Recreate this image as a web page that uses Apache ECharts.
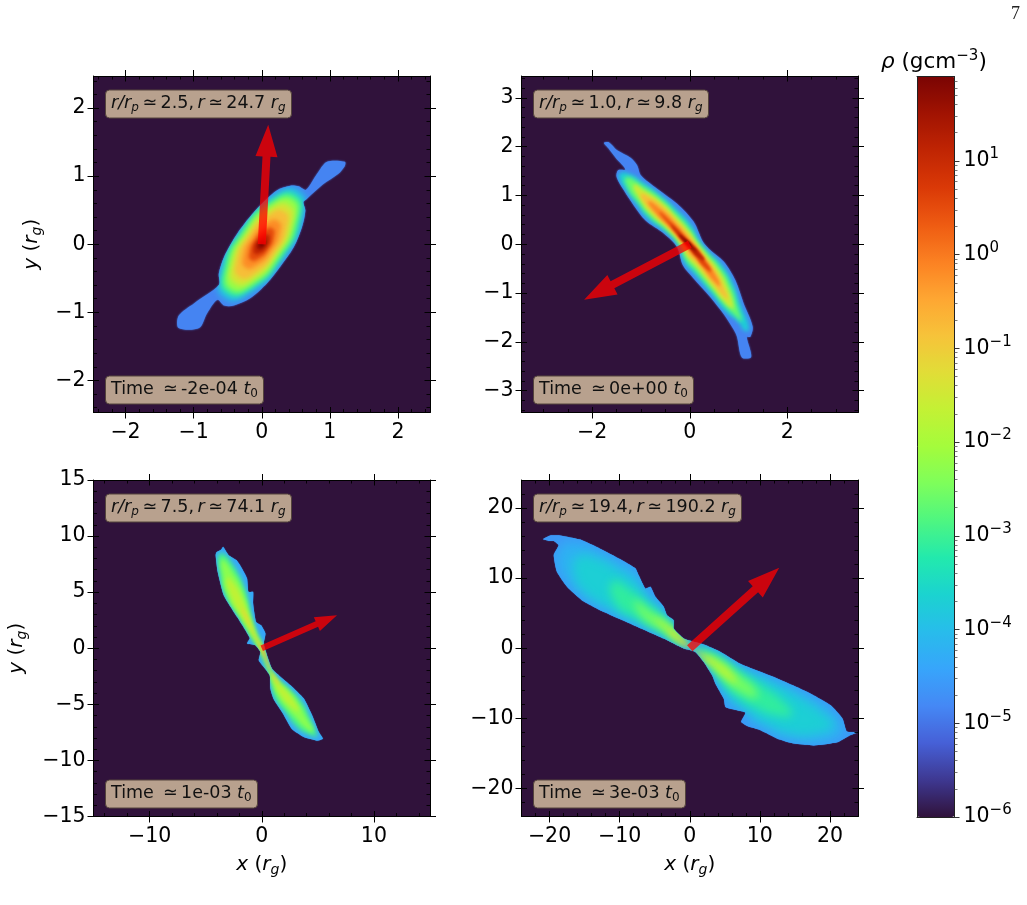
<!DOCTYPE html>
<html>
<head>
<meta charset="utf-8">
<style>html,body{margin:0;padding:0;background:#fff}#chart{width:1027px;height:905px}</style>
<script src="https://cdn.jsdelivr.net/npm/echarts@6/dist/echarts.min.js"></script>
</head>
<body>
<div id="chart"></div>
<script>
// Density contours: log10(rho) of each contour, then its outline in units of r_g.
const p1Levels = [-4.85, -3.9, -3.0, -2.2, -1.4, -0.8, -0.2, 0.5, 1.1, 1.6, 1.9];
const p1Contours = [
  [[1.22,1.21],[1.22,1.15],[1.12,1.03],[.90,.88],[.66,.665],[.61,.62],[.64,.495],[.59,.25],[.47,-.04],[.27,-.33],[.08,-.57],[-.165,-.79],[-.41,-.90],[-.55,-.90],[-.65,-.815],[-.80,-1.01],[-.92,-1.23],[-1.22,-1.23],[-1.22,-1.05],[-.99,-.865],[-.63,-.60],[-.63,-.43],[-.55,-.18],[-.36,.155],[-.07,.52],[.22,.79],[.42,.86],[.54,.85],[.65,.80],[.81,1.03],[.96,1.21]],
  [[.55,.79],[.615,.40],[.32,-.22],[-.16,-.72],[-.55,-.79],[-.615,-.40],[-.32,.22],[.16,.72]],
  [[.50,.72],[.56,.37],[.29,-.20],[-.15,-.65],[-.50,-.72],[-.56,-.37],[-.29,.20],[.15,.65]],
  [[.46,.66],[.50,.34],[.25,-.18],[-.14,-.59],[-.46,-.66],[-.50,-.34],[-.25,.18],[.14,.59]],
  [[.40,.57],[.44,.30],[.22,-.15],[-.13,-.52],[-.40,-.57],[-.44,-.30],[-.22,.15],[.13,.52]],
  [[.33,.48],[.37,.25],[.185,-.13],[-.10,-.43],[-.33,-.48],[-.37,-.25],[-.185,.13],[.10,.43]],
  [[.24,.34],[.27,.175],[.14,-.10],[-.07,-.31],[-.24,-.34],[-.27,-.175],[-.14,.10],[.07,.31]],
  [[.16,.23],[.18,.115],[.10,-.07],[-.04,-.21],[-.16,-.23],[-.18,-.115],[-.10,.07],[.04,.21]],
  [[.10,.14],[.12,.065],[.07,-.05],[-.02,-.13],[-.10,-.14],[-.12,-.065],[-.07,.05],[.02,.13]],
  [[.05,.07],[.07,.03],[.04,-.03],[-.01,-.07],[-.05,-.07],[-.07,-.03],[-.04,.03],[.01,.07]],
  [[.02,.03],[.03,.01],[.02,-.015],[-.005,-.03],[-.02,-.03],[-.03,-.01],[-.02,.015],[.005,.03]]
];

const p2Levels = [-4.85, -3.7, -2.6, -1.5, -0.8, -0.1, 0.6, 1.2, 1.7, 1.9];
const p2Contours = [
  [[-1.76,2.075],[-1.66,2.09],[-1.49,1.925],[-1.215,1.775],[-1.08,1.62],[-1.0,1.41],[-.67,1.14],[-.26,.83],[.08,.46],[.27,.05],[.39,-.09],[.70,-.36],[.935,-.74],[1.105,-1.215],[1.29,-1.69],[1.24,-1.90],[1.17,-1.90],[1.26,-2.31],[1.07,-2.32],[.97,-1.90],[.90,-1.75],[.71,-1.45],[.42,-1.08],[.08,-.70],[-.14,-.43],[-.26,-.055],[-.53,.22],[-.91,.49],[-1.15,.80],[-1.35,1.105],[-1.50,1.38],[-1.47,1.515],[-1.32,1.535],[-1.52,1.775],[-1.66,1.96]],
  [[-1.42,1.46],[-1.25,1.45],[-.95,1.27],[-.62,1.03],[-.27,.72],[.03,.40],[.22,.06],[.38,-.14],[.66,-.42],[.88,-.78],[1.05,-1.25],[1.22,-1.72],[1.14,-1.78],[.98,-1.58],[.73,-1.38],[.44,-1.02],[.10,-.62],[-.11,-.38],[-.24,-.03],[-.5,.25],[-.86,.52],[-1.1,.82],[-1.3,1.1],[-1.45,1.35]],
  [[-1.3,1.38],[-.93,1.18],[-.6,.95],[-.27,.63],[0,.33],[.18,.04],[.36,-.18],[.62,-.47],[.84,-.85],[.98,-1.28],[1.06,-1.58],[.95,-1.48],[.74,-1.28],[.46,-.95],[.12,-.55],[-.08,-.32],[-.21,-.02],[-.47,.28],[-.82,.57],[-1.05,.85],[-1.28,1.17]],
  [[-1.15,1.22],[-.9,1.08],[-.58,.86],[-.27,.55],[-.02,.27],[.15,.02],[.34,-.22],[.58,-.52],[.78,-.9],[.90,-1.3],[.84,-1.3],[.68,-1.15],[.46,-.87],[.14,-.47],[-.05,-.26],[-.18,0],[-.45,.31],[-.78,.6],[-1.0,.88]],
  [[-1.0,1.03],[-.82,.96],[-.55,.76],[-.27,.47],[-.04,.21],[.12,0],[.30,-.25],[.52,-.55],[.70,-.9],[.78,-1.12],[.70,-1.07],[.46,-.78],[.16,-.40],[-.03,-.20],[-.16,.02],[-.43,.34],[-.72,.63],[-.92,.85]],
  [[-.85,.88],[-.55,.68],[-.28,.41],[-.06,.16],[.10,-.03],[.28,-.27],[.48,-.55],[.62,-.85],[.50,-.76],[.20,-.38],[0,-.15],[-.14,.04],[-.40,.34],[-.68,.62]],
  [[-.62,.66],[-.30,.37],[-.07,.12],[.10,-.05],[.27,-.28],[.44,-.55],[.30,-.47],[.08,-.19],[-.08,-.01],[-.32,.28]],
  [[-.38,.40],[-.15,.17],[.03,0],[.18,-.15],[.30,-.33],[.15,-.25],[0,-.08],[-.12,.05],[-.28,.25]],
  [[-.22,.20],[-.06,.08],[.05,-.04],[.14,-.14],[.05,-.10],[-.05,-.01],[-.15,.10]],
  [[-.11,.09],[-.03,.04],[.03,-.03],[-.02,-.02],[-.07,.03]]
];

const p3Levels = [-4.4, -2.9, -2.3, -1.7, -1.1, -0.7, -0.2];
const p3Contours = [
  [[-3.45,9.05],[-3.27,8.78],[-2.95,8.30],[-2.26,7.86],[-1.85,7.26],[-1.31,6.22],[-1.19,5.03],[-.77,5.03],[-.77,3.99],[-.51,2.35],[-.06,2.05],[.33,1.31],[.18,.42],[.33,-.18],[.92,-1.82],[2.56,-3.30],[3.75,-4.49],[4.49,-5.98],[5.09,-7.47],[5.45,-8.07],[4.94,-8.24],[3.75,-7.92],[2.71,-7.23],[1.90,-5.83],[1.07,-4.55],[.77,-3.60],[.71,-2.41],[.18,-1.67],[-.27,-1.07],[-.12,-.33],[-.57,.27],[-1.31,.42],[-1.07,.92],[-2.20,2.80],[-3.39,4.73],[-3.93,6.82],[-4.11,8.30],[-4.05,8.54],[-3.63,8.78]],
  [[-3.85,8.35],[-3.3,8.35],[-2.6,7.5],[-2.1,6.7],[-1.6,5.6],[-1.2,4.3],[-.95,3.0],[-.5,1.5],[-.05,.55],[.2,-.3],[.9,-2.1],[2.5,-3.6],[3.6,-4.8],[4.3,-6.2],[4.9,-7.6],[5.0,-7.9],[4.0,-7.6],[3.0,-6.9],[2.1,-5.7],[1.2,-4.5],[.85,-3.2],[.55,-2.1],[-.05,-.6],[-.5,.3],[-1.0,1.0],[-2.1,2.8],[-3.3,4.8],[-3.8,6.8]],
  [[-3.6,7.9],[-3.2,7.7],[-2.6,6.8],[-1.9,5.6],[-1.4,4.2],[-1.05,2.9],[-.5,1.3],[0,.3],[.6,-1.4],[1.3,-2.8],[2.5,-3.9],[3.4,-5.1],[4.0,-6.2],[4.6,-7.4],[3.9,-7.1],[3.0,-6.2],[2.1,-5.2],[1.4,-4.2],[.9,-3.0],[.5,-1.8],[-.1,-.3],[-.9,1.1],[-2.0,2.9],[-3.1,4.8],[-3.5,6.5]],
  [[-3.1,6.3],[-2.5,5.8],[-1.8,4.6],[-1.35,3.5],[-.95,2.3],[-.4,.9],[.05,.1],[.5,-1.2],[1.2,-2.6],[2.2,-3.8],[3.0,-4.9],[3.3,-5.6],[2.6,-5.2],[1.7,-4.2],[1.1,-3.0],[.6,-1.7],[-.1,-.1],[-.85,1.25],[-1.7,2.7],[-2.7,4.5]],
  [[-1.8,3.6],[-1.4,3.0],[-.9,1.9],[-.3,.6],[.05,0],[.4,-1.0],[.95,-2.2],[1.6,-3.2],[1.2,-2.9],[.7,-1.7],[.2,-.6],[-.1,.05],[-.7,1.3],[-1.4,2.6]],
  [[-.9,1.6],[-.5,.9],[-.1,.15],[.15,-.25],[.5,-1.15],[.75,-1.9],[.4,-1.15],[.05,-.3],[-.15,.1],[-.6,1.0]],
  [[-.25,.4],[0,0],[.2,-.5],[.05,-.15],[-.1,.1]]
];

const p4Levels = [-4.6, -4.2, -3.7, -3.1, -2.5, -1.8, -1.3, -0.7];
const p4Contours = [
  [[-20.95,15.57],[-19.9,16.1],[-18.5,16.1],[-15.6,15.5],[-12.8,14.2],[-9.9,12.7],[-7.76,11.4],[-7.29,10.4],[-6.33,8.5],[-5.6,8.76],[-4.9,7.33],[-3.7,5.9],[-3.24,4.7],[-2.3,4.0],[-2.3,2.8],[-.86,1.38],[2.0,.52],[4.4,-.52],[7.2,-2.2],[12,-4.1],[16.8,-6.24],[20.1,-8.14],[21.8,-10.05],[22.4,-11.86],[24,-11.95],[22.7,-12.5],[21.05,-13.4],[17.7,-13.86],[14.86,-13.6],[12.5,-12.9],[10.1,-11.7],[8.2,-11.1],[7.33,-10.5],[7.95,-9.2],[6.76,-8.86],[5.1,-8.38],[4.86,-7.2],[3.67,-5.05],[3.2,-3.86],[2,-1.95],[.8,-.52],[-.86,-.05],[-3.7,1.38],[-8,3.29],[-12.3,5.2],[-15.4,6.86],[-17.5,8.76],[-18.95,10.9],[-19.4,13.3],[-18.7,14.7],[-19.4,15.3],[-20.1,15.3]],
  [[-18.7,15.0],[-15.5,15.0],[-12.6,13.7],[-9.7,12.2],[-7.5,10.9],[-6.2,8.0],[-4.7,6.6],[-3,4.4],[-1.7,2.4],[-.6,1.1],[2,.25],[4.4,-.85],[7.2,-2.5],[12,-4.5],[16.7,-6.7],[20,-8.7],[21.6,-10.6],[22,-11.9],[21,-12.9],[17.7,-13.5],[14.9,-13.2],[12.6,-12.5],[10.3,-11.2],[8.6,-10.5],[8.3,-9.0],[6.8,-8.4],[5.5,-7.9],[5.1,-6.8],[3.9,-4.7],[3.3,-3.4],[2.1,-1.6],[.8,-.3],[-.9,.15],[-3.7,1.65],[-8,3.6],[-12.2,5.55],[-15.2,7.2],[-17.2,9.1],[-18.6,11],[-19,13.3],[-18.3,14.6]],
  [[-16,13],[-13,12.7],[-10,11],[-7.8,9.5],[-6,7.2],[-4.5,5.7],[-2.8,3.9],[-1.5,2.1],[-.5,.9],[2,0],[4.4,-1.1],[7,-2.9],[11.5,-4.9],[16,-7.2],[19,-9.3],[20.5,-11],[18,-12.2],[14.5,-12.2],[11,-10.8],[8.5,-9.2],[6.5,-7.6],[5.3,-6.3],[4,-4.3],[3.2,-3],[2,-1.3],[.6,-.1],[-1,.35],[-3.8,1.9],[-8,3.95],[-12,6.0],[-15,8],[-16.5,10.5]],
  [[-11,9.5],[-8.5,8.3],[-6.3,6.5],[-4.4,5],[-2.7,3.4],[-1.4,1.9],[-.4,.7],[2,-.3],[4.3,-1.4],[7,-3.3],[10.5,-5.5],[13.5,-7.8],[14.5,-9.5],[12,-9.5],[9.5,-8.5],[7,-7],[5.3,-5.5],[4.1,-3.9],[3.1,-2.6],[1.9,-1.1],[.5,.05],[-1.1,.6],[-3.8,2.3],[-7.5,4.3],[-10.5,6.3]],
  [[-7.8,6.8],[-6,5.5],[-4.2,4.3],[-2.6,3],[-1.3,1.6],[-.3,.55],[2,-.6],[4.2,-1.7],[6.8,-3.7],[9.2,-5.7],[9.5,-7],[7.5,-6.4],[5.5,-5],[4.2,-3.6],[3,-2.3],[1.8,-.9],[.4,.15],[-1.2,.8],[-3.7,2.5],[-6.5,4.2]],
  [[-5,4.3],[-3.5,3.5],[-2.3,2.5],[-1.1,1.3],[-.2,.4],[1.9,-.8],[4,-1.9],[6,-3.6],[6.6,-4.9],[5,-4.1],[3.7,-3],[2.6,-1.9],[1.5,-.7],[.3,.15],[-1.3,1],[-3.2,2.4]],
  [[-3,2.7],[-2,2.0],[-.9,1.0],[-.1,.25],[1.5,-.7],[2.9,-1.7],[3.3,-2.3],[2.1,-1.5],[1.0,-.5],[.2,.05],[-1,.7],[-2.4,1.7]],
  [[-1.5,1.3],[-.6,.7],[0,.1],[1.2,-.6],[1.9,-1.2],[.9,-.55],[.1,-.03],[-.8,.5]]
];

// Direction of the arrow drawn from the origin of each panel.
const p1Arrow = [0.095, 1.755];
const p2Arrow = [-2.166, -1.137];
const p3Arrow = [6.71, 2.95];
const p4Arrow = [12.76, 11.47];

// Tick positions of each panel.
const p1Ticks = [-2, -1, 0, 1, 2];
const p2TicksX = [-2, 0, 2];
const p2TicksY = [-3, -2, -1, 0, 1, 2, 3];
const p3TicksX = [-10, 0, 10];
const p3TicksY = [-15, -10, -5, 0, 5, 10, 15];
const p4TicksX = [-20, -10, 0, 10, 20];
const p4TicksY = [-20, -10, 0, 10, 20];
const barExponents = [-6, -5, -4, -3, -2, -1, 0, 1];

// Annotation texts.
const orbitNotes = [
  ['2.5', '24.7'], ['1.0', '9.8'], ['7.5', '74.1'], ['19.4', '190.2']
];
const timeNotes = ['-2e-04', '0e+00', '1e-03', '3e-03'];

// Colour ramp of the density scale, dark violet to dark red, in equal steps.
const turbo = ['#30123b','#3e3891','#4660d7','#4588f5','#37a5fb','#28bceb','#1bd3d0','#22e9ad','#4ef681','#7dfe5b','#a4fc3c','#c3f134','#e1dd37','#f6c33a','#fea632','#fb8122','#ee5b12','#da3907','#c02503','#a11302','#7a0403'];

const FONT = '"DejaVu Sans"';
const panels = [
  {left:93.5, top:76,  lim:2.47, limY:2.47, tx:p1Ticks,  ty:p1Ticks,  mx:0.2, my:0.2, levels:p1Levels, polys:p1Contours, arrow:p1Arrow, blur:6, edge:2, rim:0.3, head:[8,22,32], boxes:[105,88,374], yName:true, gapY:49},
  {left:521.5,top:76,  lim:3.45, limY:3.45, tx:p2TicksX, ty:p2TicksY, mx:0.5, my:0.2, levels:p2Levels, polys:p2Contours, arrow:p2Arrow, blur:4.5, edge:2, rim:0.3, head:[8,22,32], boxes:[533,88,374]},
  {left:93.5, top:480, lim:15,   limY:15,   tx:p3TicksX, ty:p3TicksY, mx:2,   my:1,   levels:p3Levels, polys:p3Contours, arrow:p3Arrow, blur:5, edge:1, rim:0.15, head:[6,15,22], boxes:[105,492,778], xName:true, yName:true, gapY:64},
  {left:521.5,top:480, lim:24,   limY:24,   tx:p4TicksX, ty:p4TicksY, mx:2,   my:2,   levels:p4Levels, polys:p4Contours, arrow:p4Arrow, blur:12, edge:1, rim:0.15, head:[8,22,32], boxes:[533,492,778], xName:true}
];
const SIZE = 336.5;
const OFFSCREEN = 3000;

function stepsIn(lo, hi, step) {
  const out = [];
  for (let k = Math.ceil(lo / step); k * step <= hi + 1e-9; k++) out.push(+(k * step).toFixed(6));
  return out;
}
const minus = v => String(v).replace('-', '\u2212');
const mathRich = {
  i: {fontFamily: FONT, fontStyle: 'italic', fontWeight: 'normal', fontSize: 20, color: '#000', lineHeight: 26},
  n: {fontFamily: FONT, fontWeight: 'normal', fontSize: 20, color: '#000', lineHeight: 26},
  s: {fontFamily: FONT, fontStyle: 'italic', fontWeight: 'normal', fontSize: 14, color: '#000', verticalAlign: 'bottom'}
};

// One axis family: labelled outer ticks, inner ticks, inner minor ticks, on both sides.
function axisFamily(dim, gridIndex, lim, majors, step, name, gap) {
  const sides = dim === 'x' ? ['bottom', 'top'] : ['left', 'right'];
  const minors = stepsIn(-lim, lim, step);
  const out = [];
  sides.forEach((position, s) => {
    const base = {type: 'value', gridIndex, position, min: -lim, max: lim, z: 8,
      splitLine: {show: false}, axisLine: {show: false, onZero: false}, axisLabel: {show: false}};
    out.push(Object.assign({}, base, {
      axisLine: {show: true, onZero: false, lineStyle: {color: '#000', width: 1}},
      axisTick: {show: true, length: 6, customValues: majors, lineStyle: {color: '#000', width: 1}},
      axisLabel: s === 0 ? {show: true, customValues: majors, formatter: minus, fontFamily: FONT, fontSize: 20.5, color: '#000', margin: dim === 'x' ? 10 : 8} : {show: false},
      name: s === 0 && name ? name : '', nameLocation: 'middle', nameGap: gap, nameMoveOverlap: false,
      nameTextStyle: {rich: mathRich}
    }));
    out.push(Object.assign({}, base, {axisTick: {show: true, inside: true, length: 5.5, customValues: majors, lineStyle: {color: '#000', width: 1}}}));
    out.push(Object.assign({}, base, {axisTick: {show: true, inside: true, length: 3.5, customValues: minors, lineStyle: {color: '#000', width: 0.9}}}));
  });
  return out;
}

const grids = [], xAxes = [], yAxes = [], series = [], titles = [];
const xLabel = '{i|x}{n| (}{i|r}{s|g}{n|)}', yLabel = '{i|y}{n| (}{i|r}{s|g}{n|)}';

panels.forEach((p, idx) => {
  grids.push({left: p.left, top: p.top, width: SIZE, height: SIZE, show: true, backgroundColor: turbo[0], borderWidth: 0});
  xAxes.push(...axisFamily('x', idx, p.lim, p.tx, p.mx, p.xName ? xLabel : '', 35));
  yAxes.push(...axisFamily('y', idx, p.limY, p.ty, p.my, p.yName ? yLabel : '', p.gapY));

  const first = idx * 6;
  series.push({
    type: 'custom', coordinateSystem: 'cartesian2d', xAxisIndex: first, yAxisIndex: first,
    clip: true, silent: true, z: 2, animation: false,
    data: p.levels.map((lv, i) => [0, 0, lv, i]),
    renderItem(params, api) {
      const i = api.value(3);
      const points = p.polys[i].map(q => api.coord(q));
      const fill = api.visual('color');
      if (i === 0) {
        // Outermost contour keeps a crisp edge.
        return {type: 'polygon', shape: {points, smooth: p.rim},
          style: {fill, stroke: null, shadowBlur: p.edge, shadowColor: fill}};
      }
      // Inner contours are painted as their blurred shadow only, held inside the outermost one.
      const blur = p.blur * (1 - 0.6 * (i - 1) / (p.levels.length - 1));
      return {
        type: 'polygon',
        shape: {points: points.map(c => [c[0] - OFFSCREEN, c[1]]), smooth: 0.6},
        style: {fill, stroke: null, shadowBlur: blur, shadowColor: fill, shadowOffsetX: OFFSCREEN},
        clipPath: {type: 'polygon', shape: {points: p.polys[0].map(q => api.coord(q)), smooth: p.rim}}
      };
    }
  });
  series.push({
    type: 'custom', coordinateSystem: 'cartesian2d', xAxisIndex: first, yAxisIndex: first,
    clip: true, silent: true, z: 3, animation: false,
    data: [[0, 0, p.arrow[0], p.arrow[1]]],
    renderItem(params, api) {
      const a = api.coord([api.value(0), api.value(1)]);
      const b = api.coord([api.value(2), api.value(3)]);
      const dx = b[0] - a[0], dy = b[1] - a[1], d = Math.hypot(dx, dy);
      const ux = dx / d, uy = dy / d, nx = -uy, ny = ux;
      const [shaft, headW, headL] = p.head;
      const at = (along, off) => [a[0] + ux * along + nx * off, a[1] + uy * along + ny * off];
      return {
        type: 'polygon',
        shape: {points: [at(0, -shaft / 2), at(d - headL, -shaft / 2), at(d - headL, -headW / 2), at(d, 0), at(d - headL, headW / 2), at(d - headL, shaft / 2), at(0, shaft / 2)]},
        style: {fill: 'rgba(255,0,0,0.75)', stroke: null}
      };
    }
  });

  const box = {
    backgroundColor: '#b8a18e', borderColor: '#54443c', borderWidth: 1, borderRadius: 4,
    padding: [4.5, 6, 4.5, 6], z: 30
  };
  const rich = {
    i: {fontFamily: FONT, fontStyle: 'italic', fontWeight: 'normal', fontSize: 17.5, color: '#111', lineHeight: 21},
    n: {fontFamily: FONT, fontWeight: 'normal', fontSize: 17.5, color: '#111', lineHeight: 21},
    s: {fontFamily: FONT, fontStyle: 'italic', fontWeight: 'normal', fontSize: 12, color: '#111', verticalAlign: 'bottom'},
    z: {fontFamily: FONT, fontWeight: 'normal', fontSize: 12, color: '#111', verticalAlign: 'bottom'}
  };
  const [rp, r] = orbitNotes[idx];
  titles.push(Object.assign({}, box, {left: p.boxes[0], top: p.boxes[1],
    text: `{i|r/r}{s|p}{n|\u2009\u2243\u2009${rp},\u2009}{i|r}{n|\u2009\u2243\u2009${r} }{i|r}{s|g}`, textStyle: {rich}}));
  titles.push(Object.assign({}, box, {left: p.boxes[0], top: p.boxes[2],
    text: `{n|Time \u2009\u2243\u2009${timeNotes[idx]} }{i|t}{z|0}`, textStyle: {rich}}));
});

// Colour bar axes, on the exponent of the density.
const BAR_MIN = -6, BAR_MAX = 1.9;
const barMinor = [];
for (let e = -6; e < 2; e++) for (let m = 2; m <= 9; m++) {
  const v = e + Math.log10(m);
  if (v < BAR_MAX) barMinor.push(v);
}
const barGrid = grids.length;
grids.push({left: 917, top: 76.5, width: 37.5, height: 740.5, show: false});
const frameLine = {show: true, onZero: false, lineStyle: {color: '#222', width: 1}};
const barY = {type: 'value', gridIndex: barGrid, min: BAR_MIN, max: BAR_MAX, z: 20, splitLine: {show: false}};
const barYStart = yAxes.length, barXStart = xAxes.length;
yAxes.push(Object.assign({}, barY, {position: 'right', axisLine: frameLine,
  axisTick: {show: true, length: 5, customValues: barExponents, lineStyle: {color: '#333', width: 1}},
  axisLabel: {show: true, customValues: barExponents, margin: 9,
    formatter: v => `{b|10}{u|${minus(Math.round(v))}}`,
    rich: {
      b: {fontFamily: FONT, fontSize: 20.5, color: '#000', lineHeight: 28},
      u: {fontFamily: FONT, fontSize: 15, color: '#000', verticalAlign: 'top'}
    }}}));
yAxes.push(Object.assign({}, barY, {position: 'right', axisLine: {show: false, onZero: false},
  axisTick: {show: true, length: 3, customValues: barMinor, lineStyle: {color: '#555', width: 0.8}},
  axisLabel: {show: false}}));
yAxes.push(Object.assign({}, barY, {position: 'left', axisLine: frameLine, axisTick: {show: false}, axisLabel: {show: false}}));
['top', 'bottom'].forEach(position => xAxes.push({type: 'value', gridIndex: barGrid, position, min: 0, max: 1, z: 20,
  splitLine: {show: false}, axisLine: frameLine, axisTick: {show: false}, axisLabel: {show: false}}));
series.push({type: 'custom', coordinateSystem: 'cartesian2d', xAxisIndex: barXStart, yAxisIndex: barYStart, silent: true, data: [], renderItem: () => null});

titles.push({left: 881, top: 49, padding: 0, z: 30,
  text: '{i|\u03c1}{n| (gcm}{u|\u22123}{n|)}',
  textStyle: {rich: {
    i: Object.assign({}, mathRich.i, {fontSize: 21.5}), n: Object.assign({}, mathRich.n, {fontSize: 21.5}),
    u: {fontFamily: FONT, fontWeight: 'normal', fontSize: 15, color: '#000', verticalAlign: 'top'}
  }}});
titles.push({left: 1011, top: 5, padding: 0, text: '7',
  textStyle: {fontFamily: '"Liberation Serif"', fontSize: 18, fontWeight: 'normal', color: '#222'}});

const chart = echarts.init(document.getElementById('chart'), null, {renderer: 'canvas'});
chart.setOption({
  animation: false,
  backgroundColor: '#fff',
  title: titles,
  grid: grids,
  xAxis: xAxes,
  yAxis: yAxes,
  series,
  visualMap: {
    type: 'continuous', min: BAR_MIN, max: BAR_MAX, dimension: 2,
    seriesIndex: [0, 2, 4, 6],
    left: 917, top: 76.5, itemWidth: 37.5, itemHeight: 740.5, padding: 0,
    calculable: false, hoverLink: false, showLabel: false, text: null, z: 5,
    inRange: {color: turbo}
  }
});
</script>
</body>
</html>
